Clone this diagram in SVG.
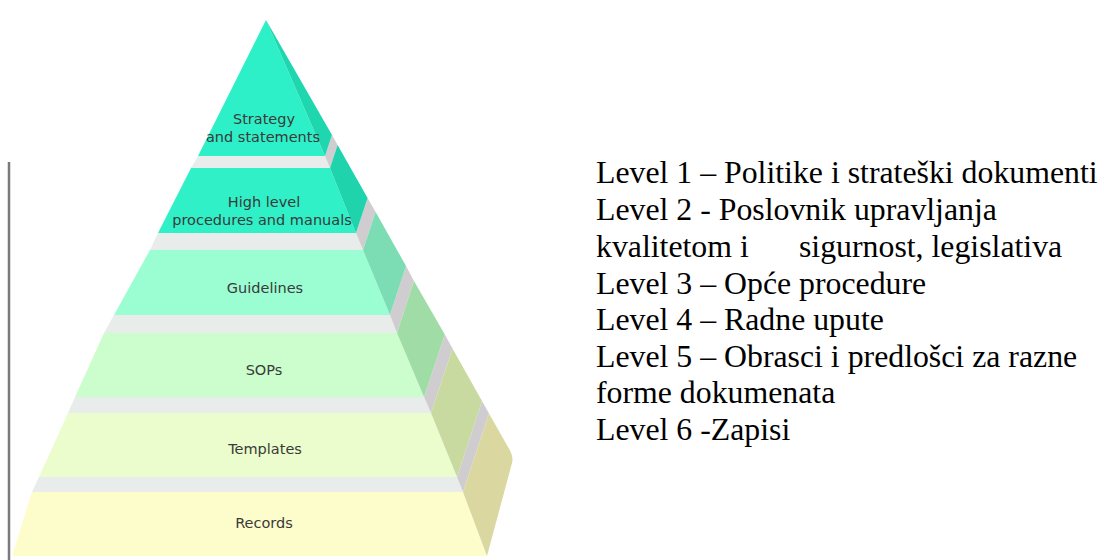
<svg xmlns="http://www.w3.org/2000/svg" width="1104" height="560" viewBox="0 0 1104 560">
<style>
.lbl{font-family:"DejaVu Sans",Verdana,sans-serif;font-size:14.5px;fill:#3a3a3a;text-anchor:middle}
.txt{font-family:"Liberation Serif","Times New Roman",serif;font-size:31.8px;fill:#000}
.gapf{fill:#e8ecea}
.gaps{fill:#d0cdd0}
</style>
<rect width="1104" height="560" fill="#ffffff"/>
<line x1="9" y1="162" x2="9" y2="560" stroke="#7a7a7a" stroke-width="2.5"/>
<g id="separators">
<polygon class="gapf" points="198,156 325,156 330,168 191,168"/>
<polygon class="gaps" points="325,156 330,168 337.6,145 332,135"/>
<polygon class="gapf" points="158,233 356,233 363,250 150,250"/>
<polygon class="gaps" points="356,233 363,250 375.6,212 367.6,198"/>
<polygon class="gapf" points="114,315 390,315 397,333 104,333"/>
<polygon class="gaps" points="390,315 397,333 414,281 406,266"/>
<polygon class="gapf" points="75,397 424,397 431,413 68,413"/>
<polygon class="gaps" points="424,397 431,413 452.5,348.5 444.8,334.6"/>
<polygon class="gapf" points="39,477 457,477 463,492 32,492"/>
<polygon class="gaps" points="457,477 463,492 489,413.4 482,401"/>
</g>
<g id="level1">
<polygon points="266,20 325,156 198,156" fill="#2ef0c8"/>
<polygon points="266,20 325,156 332,135" fill="#1ed7af"/>
<text class="lbl" x="264" y="124">Strategy</text>
<text class="lbl" x="263" y="142">and statements</text>
</g>
<g id="level2">
<polygon points="191,168 330,168 356,233 158,233" fill="#30f0c8"/>
<polygon points="330,168 356,233 367.6,198 337.6,145" fill="#1fd3ad"/>
<text class="lbl" x="264" y="207">High level</text>
<text class="lbl" x="262" y="225">procedures and manuals</text>
</g>
<g id="level3">
<polygon points="150,250 363,250 390,315 114,315" fill="#9bfdd2"/>
<polygon points="363,250 390,315 406,266 375.6,212" fill="#7cdcb4"/>
<text class="lbl" x="265" y="293">Guidelines</text>
</g>
<g id="level4">
<polygon points="104,333 397,333 424,397 75,397" fill="#ccfdcc"/>
<polygon points="397,333 424,397 444.8,334.6 414,281" fill="#a0dca5"/>
<text class="lbl" x="264" y="375">SOPs</text>
</g>
<g id="level5">
<polygon points="68,413 431,413 457,477 39,477" fill="#ebfdcc"/>
<polygon points="431,413 457,477 482,401 452.5,348.5" fill="#c8daa0"/>
<text class="lbl" x="265" y="454">Templates</text>
</g>
<g id="level6">
<polygon points="32,492 463,492 487,556 12,556" fill="#fdfdcc"/>
<path d="M463,492 L489,413.4 L508,447 Q514,456 512,463 L487,556 Z" fill="#dad8a0"/>
<text class="lbl" x="264" y="528">Records</text>
</g>
<g id="connectors"/>
<g id="legend">
<text class="txt" x="596" y="183">Level 1 – Politike i strateški dokumenti</text>
<text class="txt" x="596" y="220">Level 2 - Poslovnik upravljanja</text>
<text class="txt" x="596" y="257">kvalitetom i</text>
<text class="txt" x="799" y="257">sigurnost, legislativa</text>
<text class="txt" x="596" y="294">Level 3 – Opće procedure</text>
<text class="txt" x="596" y="330">Level 4 – Radne upute</text>
<text class="txt" x="596" y="367">Level 5 – Obrasci i predlošci za razne</text>
<text class="txt" x="596" y="403">forme dokumenata</text>
<text class="txt" x="596" y="440">Level 6 -Zapisi</text>
</g>
</svg>
